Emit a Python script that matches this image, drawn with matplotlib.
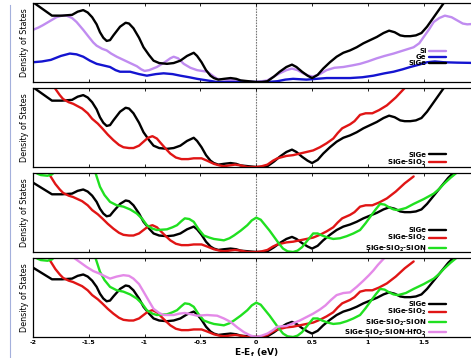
import matplotlib
matplotlib.use('Agg')
import matplotlib.pyplot as plt
from matplotlib.lines import Line2D

# Curves as (E, DOS) points,
# DOS in units of the top two panels' height; None breaks a line
sige_pts = [(-2.0, 1.01), (-1.95, 0.96), (-1.90, 0.91), (-1.83, 0.84), (-1.74, 0.84), (-1.65, 0.85),
            (-1.60, 0.89), (-1.55, 0.91), (-1.51, 0.88), (-1.47, 0.82), (-1.43, 0.73), (-1.40, 0.63),
            (-1.37, 0.56), (-1.34, 0.52), (-1.31, 0.53), (-1.28, 0.59), (-1.22, 0.70), (-1.17, 0.75),
            (-1.14, 0.74), (-1.10, 0.68), (-1.05, 0.56), (-1.01, 0.44), (-0.96, 0.34), (-0.92, 0.27),
            (-0.87, 0.24), (-0.80, 0.23), (-0.74, 0.24), (-0.68, 0.27), (-0.62, 0.33), (-0.56, 0.37),
            (-0.53, 0.33), (-0.49, 0.25), (-0.45, 0.15), (-0.41, 0.08), (-0.38, 0.05), (-0.34, 0.03),
            (-0.29, 0.04), (-0.23, 0.05), (-0.18, 0.04), (-0.14, 0.02), (-0.07, 0.01), (0.0, 0.0),
            (0.05, 0.0), (0.10, 0.01), (0.16, 0.07), (0.21, 0.13), (0.27, 0.19), (0.32, 0.22),
            (0.36, 0.19), (0.41, 0.13), (0.46, 0.08), (0.50, 0.05), (0.55, 0.09), (0.60, 0.17),
            (0.66, 0.25), (0.72, 0.32), (0.78, 0.37), (0.84, 0.40), (0.90, 0.44), (0.96, 0.49),
            (1.02, 0.53), (1.08, 0.57), (1.14, 0.62), (1.19, 0.65), (1.24, 0.63), (1.29, 0.59),
            (1.33, 0.58), (1.38, 0.58), (1.43, 0.59), (1.48, 0.62), (1.53, 0.70), (1.59, 0.82),
            (1.64, 0.92), (1.68, 1.0), (1.72, 1.08), (1.77, 1.16)]

si_pts = [(-2.0, 0.66), (-1.95, 0.69), (-1.91, 0.72), (-1.85, 0.77), (-1.79, 0.82), (-1.74, 0.84),
          (-1.70, 0.84), (-1.65, 0.81), (-1.61, 0.76), (-1.55, 0.66), (-1.50, 0.57), (-1.46, 0.50),
          (-1.43, 0.46), (-1.38, 0.42), (-1.34, 0.40), (-1.30, 0.36), (-1.25, 0.32), (-1.19, 0.28),
          (-1.13, 0.24), (-1.07, 0.20), (-1.03, 0.16), (-1.0, 0.14), (-0.96, 0.15), (-0.89, 0.19),
          (-0.82, 0.25), (-0.77, 0.30), (-0.74, 0.32), (-0.70, 0.30), (-0.65, 0.23), (-0.59, 0.18),
          (-0.53, 0.15), (-0.44, 0.13), (-0.39, 0.08), (-0.35, 0.04), (-0.28, 0.03), (-0.20, 0.02),
          (-0.10, 0.01), (0.0, 0.0), (0.10, 0.02), (0.16, 0.07), (0.21, 0.11), (0.27, 0.15),
          (0.32, 0.17), (0.37, 0.15), (0.42, 0.11), (0.47, 0.08), (0.51, 0.07), (0.57, 0.10),
          (0.63, 0.15), (0.70, 0.18), (0.78, 0.19), (0.86, 0.21), (0.93, 0.23), (1.0, 0.26),
          (1.08, 0.30), (1.15, 0.33), (1.23, 0.36), (1.32, 0.40), (1.41, 0.44), (1.46, 0.49),
          (1.50, 0.57), (1.55, 0.67), (1.59, 0.76), (1.64, 0.81), (1.69, 0.84), (1.75, 0.82),
          (1.80, 0.78), (1.85, 0.74), (1.89, 0.73), (2.0, 0.74)]

ge_pts = [(-2.0, 0.25), (-1.92, 0.26), (-1.84, 0.28), (-1.75, 0.33), (-1.67, 0.36), (-1.61, 0.35),
          (-1.55, 0.32), (-1.49, 0.27), (-1.43, 0.23), (-1.37, 0.21), (-1.31, 0.19), (-1.26, 0.15),
          (-1.22, 0.13), (-1.13, 0.13), (-1.05, 0.10), (-0.98, 0.08), (-0.90, 0.10), (-0.83, 0.11),
          (-0.75, 0.10), (-0.68, 0.08), (-0.60, 0.06), (-0.53, 0.04), (-0.44, 0.02), (-0.35, 0.0),
          (-0.20, 0.0), (0.0, 0.0), (0.10, 0.0), (0.19, 0.01), (0.26, 0.03), (0.33, 0.04),
          (0.39, 0.035), (0.45, 0.03), (0.54, 0.04), (0.63, 0.05), (0.84, 0.05), (0.95, 0.06),
          (1.05, 0.08), (1.15, 0.11), (1.23, 0.13), (1.31, 0.16), (1.38, 0.19), (1.46, 0.22),
          (1.53, 0.25), (1.60, 0.26), (1.68, 0.25), (1.80, 0.245), (2.0, 0.24)]

sio2_pts = [(-1.85, 1.12), (-1.80, 0.99), (-1.76, 0.91), (-1.73, 0.86), (-1.68, 0.82), (-1.64, 0.80),
            (-1.60, 0.77), (-1.56, 0.74), (-1.51, 0.68), (-1.47, 0.61), (-1.42, 0.55), (-1.38, 0.49),
            (-1.33, 0.41), (-1.28, 0.34), (-1.23, 0.28), (-1.19, 0.25), (-1.14, 0.24), (-1.10, 0.24),
            (-1.05, 0.27), (-1.01, 0.32), (-0.97, 0.37), (-0.93, 0.39), (-0.89, 0.36), (-0.86, 0.31),
            (-0.81, 0.23), (-0.77, 0.17), (-0.72, 0.12), (-0.67, 0.10), (-0.61, 0.10), (-0.56, 0.11),
            (-0.49, 0.11), (-0.44, 0.08), (-0.38, 0.04), (-0.33, 0.02), (-0.29, 0.01), (-0.24, 0.02),
            (-0.19, 0.03), (-0.14, 0.02), (-0.08, 0.0), (0.0, 0.0), (0.05, 0.01), (0.10, 0.03),
            (0.15, 0.08), (0.19, 0.11), (0.27, 0.14), (0.33, 0.15), (0.39, 0.17), (0.45, 0.19),
            (0.51, 0.21), (0.57, 0.25), (0.63, 0.30), (0.69, 0.36), (0.73, 0.43), (0.77, 0.49),
            (0.84, 0.54), (0.88, 0.58), (0.93, 0.66), (0.98, 0.68), (1.04, 0.68), (1.10, 0.72),
            (1.17, 0.78), (1.25, 0.88), (1.33, 1.0), (1.41, 1.1)]

sion_pts = [(-2.0, 1.19), (-1.96, 1.14), (-1.93, 1.12), (-1.87, 1.11), (-1.83, 1.13), (-1.81, 1.16),
            (-1.78, 1.22), None, (-1.46, 1.22), (-1.44, 1.15), (-1.42, 1.05), (-1.40, 0.95),
            (-1.36, 0.83), (-1.31, 0.73), (-1.25, 0.68), (-1.19, 0.66), (-1.13, 0.62), (-1.07, 0.56),
            (-1.02, 0.48), (-0.98, 0.39), (-0.93, 0.34), (-0.89, 0.32), (-0.80, 0.33), (-0.75, 0.36),
            (-0.71, 0.39), (-0.67, 0.45), (-0.64, 0.49), (-0.60, 0.48), (-0.56, 0.44), (-0.52, 0.34),
            (-0.47, 0.24), (-0.42, 0.21), (-0.38, 0.19), (-0.29, 0.17), (-0.24, 0.20), (-0.20, 0.24),
            (-0.14, 0.31), (-0.08, 0.39), (-0.04, 0.46), (0.0, 0.50), (0.04, 0.47), (0.07, 0.41),
            (0.12, 0.31), (0.16, 0.22), (0.20, 0.13), (0.24, 0.05), (0.28, 0.01), (0.33, 0.0),
            (0.37, 0.02), (0.41, 0.07), (0.46, 0.17), (0.51, 0.27), (0.55, 0.27), (0.59, 0.24),
            (0.64, 0.21), (0.69, 0.19), (0.75, 0.20), (0.81, 0.23), (0.87, 0.27), (0.93, 0.32),
            (0.98, 0.42), (1.02, 0.51), (1.07, 0.62), (1.11, 0.70), (1.15, 0.69), (1.19, 0.65),
            (1.23, 0.62), (1.27, 0.61), (1.34, 0.64), (1.41, 0.70), (1.50, 0.77), (1.59, 0.85),
            (1.64, 0.92), (1.68, 0.99), (1.74, 1.08), (1.80, 1.16)]

hfo2_pts = [(-1.70, 1.25), (-1.64, 1.16), (-1.58, 1.09), (-1.52, 1.02), (-1.46, 0.96), (-1.40, 0.92),
            (-1.35, 0.88), (-1.31, 0.85), (-1.25, 0.88), (-1.19, 0.90), (-1.14, 0.89), (-1.10, 0.85),
            (-1.05, 0.77), (-1.01, 0.66), (-0.96, 0.52), (-0.92, 0.41), (-0.87, 0.35), (-0.83, 0.32),
            (-0.74, 0.32), (-0.69, 0.34), (-0.64, 0.35), (-0.58, 0.33), (-0.53, 0.31), (-0.44, 0.32),
            (-0.35, 0.31), (-0.29, 0.27), (-0.23, 0.22), (-0.17, 0.14), (-0.11, 0.07), (-0.05, 0.02),
            (0.0, 0.0), (0.05, 0.02), (0.10, 0.05), (0.15, 0.10), (0.19, 0.15), (0.27, 0.16),
            (0.33, 0.20), (0.39, 0.24), (0.45, 0.29), (0.51, 0.34), (0.57, 0.40), (0.62, 0.46),
            (0.67, 0.54), (0.72, 0.61), (0.78, 0.64), (0.84, 0.65), (0.90, 0.73), (0.96, 0.82),
            (1.01, 0.90), (1.05, 0.97), (1.09, 1.05), (1.13, 1.12), (1.17, 1.19)]

xticks = [-2, -1.5, -1, -0.5, 0, 0.5, 1, 1.5]
xtick_labels = ['-2', '-1.5', '-1', '-0.5', '0', '0.5', '1', '1.5']

black = '#000000'
red = '#e01515'
green = '#20e020'
blue = '#1414d0'
lilac = '#c08cf0'
pink = '#e48ae8'

curves = {
    'si': (si_pts, lilac, 'Si'),
    'ge': (ge_pts, blue, 'Ge'),
    'sige': (sige_pts, black, 'SiGe'),
    'sio2': (sio2_pts, red, r'SiGe-SiO$_\mathbf{2}$'),
    'sion': (sion_pts, green, r'SiGe-SiO$_\mathbf{2}$-SiON'),
    'hfo2': (hfo2_pts, pink, r'SiGe-SiO$_\mathbf{2}$-SiON-HfO$_\mathbf{2}$'),
}

# curves shown, y-range, legend bottom (axes fraction)
panels = [
    (['si', 'ge', 'sige'], 1.0, 0.20),
    (['sige', 'sio2'], 1.0, -0.01),
    (['sige', 'sio2', 'sion'], 1.15, -0.02),
    (['sige', 'sio2', 'sion', 'hfo2'], 1.15, -0.01),
]

W, H = 471, 358
fig = plt.figure(figsize=(W / 100, H / 100), dpi=100)

left_px, right_px = 33, 479.5
tops = [3, 88, 173, 258]
ph = 79

for i, (keys, ytop, leg_y) in enumerate(panels):
    ax = fig.add_axes([left_px / W, 1 - (tops[i] + ph) / H,
                       (right_px - left_px) / W, ph / H])
    for k in keys:
        pts, col, lab = curves[k]
        xs = [float('nan') if p is None else p[0] for p in pts]
        ys = [float('nan') if p is None else p[1] for p in pts]
        ax.plot(xs, ys, color=col, lw=1.7, label=lab,
                solid_capstyle='round', solid_joinstyle='round')
    ax.axvline(0, color='#777777', lw=0.8, ls=(0, (1.5, 1)), zorder=0)
    ax.set_xlim(-2, 2)
    ax.set_ylim(0, ytop)
    ax.set_yticks([])
    ax.set_xticks(xticks)
    ax.tick_params(axis='x', direction='in', length=2.5, width=0.6, top=True,
                   pad=2, labelsize=4.5)
    if i == 3:
        ax.set_xticklabels(xtick_labels, fontweight='bold')
        ax.set_xlabel(r'E-E$_\mathbf{f}$ (eV)', fontsize=6.5, fontweight='bold', labelpad=1)
    else:
        ax.set_xticklabels([])
    ax.set_ylabel('Density of States', fontsize=5.8, labelpad=3,
                  family=['Liberation Sans Narrow', 'DejaVu Sans'])
    for s in ax.spines.values():
        s.set_linewidth(0.9)
    ax.legend(loc='lower right', bbox_to_anchor=(0.925, leg_y), markerfirst=False,
              frameon=False, handlelength=2.4, handletextpad=0.4, labelspacing=0.0,
              borderpad=0, borderaxespad=0,
              prop={'size': 5, 'weight': 'bold'})

fig.add_artist(Line2D([9.5 / W, 9.5 / W], [0, 0.985], color='#a4b0dc', lw=0.8))

fig.savefig('out.png', dpi=100)
